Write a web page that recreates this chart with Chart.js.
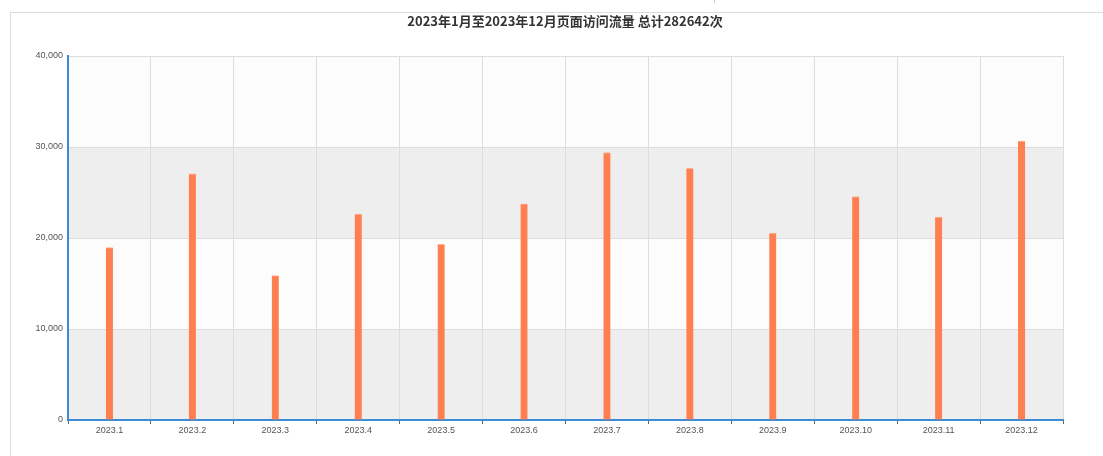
<!DOCTYPE html>
<html>
<head>
<meta charset="utf-8">
<script src="https://cdn.jsdelivr.net/npm/chart.js@4/dist/chart.umd.min.js"></script>
<style>
  html, body { margin: 0; padding: 0; background: #fff; }
  #wrap { position: relative; width: 1103px; height: 456px; overflow: hidden; }
  #frame { position: absolute; left: 10px; top: 12px; width: 1200px; height: 600px; border-left: 1px solid #dcdcdc; border-top: 1px solid #dcdcdc; }
  #mark { position: absolute; left: 714px; top: 0px; width: 1px; height: 3px; background: #ccc; }
  canvas { position: absolute; left: 0; top: 0; }
</style>
</head>
<body>
<div id="wrap">
  <div id="frame"></div>
  <div id="mark"></div>
  <canvas id="c" width="1103" height="456"></canvas>
</div>
<script>
const titleText = '2023年1月至2023年12月页面访问流量 总计282642次';
const categories = ['2023.1','2023.2','2023.3','2023.4','2023.5','2023.6','2023.7','2023.8','2023.9','2023.10','2023.11','2023.12'];
const visits = [18950, 27050, 15870, 22620, 19300, 23750, 29400, 27650, 20550, 24560, 22300, 30650];
const yTicks = [0, 10000, 20000, 30000, 40000];

const bandPlugin = {
  id: 'bands',
  beforeDraw(chart) {
    const { ctx, chartArea: a, scales: { y } } = chart;
    ctx.save();
    for (let i = 0; i < yTicks.length - 1; i++) {
      const top = y.getPixelForValue(yTicks[i + 1]);
      const bot = y.getPixelForValue(yTicks[i]);
      ctx.fillStyle = (i % 2 === 0) ? '#eeeeee' : '#fcfcfc';
      ctx.fillRect(a.left, top, a.right - a.left, bot - top);
    }
    ctx.restore();
  }
};

const titlePlugin = {
  id: 'ttl',
  afterDraw(chart) {
    const { ctx } = chart;
    ctx.save();
    ctx.font = 'bold 13px "Noto Sans CJK SC", "Liberation Sans", sans-serif';
    ctx.fillStyle = '#333';
    ctx.textAlign = 'center';
    ctx.textBaseline = 'middle';
    ctx.fillText(titleText, 565, 21);
    ctx.restore();
  }
};

new Chart(document.getElementById('c'), {
  type: 'bar',
  data: {
    labels: categories,
    datasets: [{
      data: visits,
      backgroundColor: '#ff7f50',
      borderColor: '#ffb094',
      borderWidth: { top: 1, left: 0, right: 0, bottom: 0 },
      barThickness: 7
    }]
  },
  options: {
    responsive: false,
    animation: false,
    devicePixelRatio: 1,
    layout: { padding: { top: 56, right: 40, left: 1, bottom: 0 } },
    plugins: { legend: { display: false }, tooltip: { enabled: false }, title: { display: false } },
    scales: {
      x: {
        grid: { offset: true, color: '#dddddd', tickColor: '#666', tickLength: 4, drawTicks: true },
        border: { color: '#3d8bd4', width: 2 },
        ticks: { color: '#555', font: { family: '"Liberation Sans", Arial, sans-serif', size: 9 }, padding: 1, maxRotation: 0 },
        afterFit(s) { s.height = 36; }
      },
      y: {
        min: 0, max: 40000,
        afterBuildTicks(s) { s.ticks = yTicks.map(v => ({ value: v })); },
        grid: { color: '#dddddd', drawTicks: false },
        border: { color: '#3d8bd4', width: 2 },
        ticks: {
          color: '#555', padding: 5,
          font: { family: '"Liberation Sans", Arial, sans-serif', size: 9 },
          callback: v => v.toLocaleString('en-US')
        },
        afterFit(s) { s.width = 67; }
      }
    }
  },
  plugins: [bandPlugin, titlePlugin]
});
</script>
</body>
</html>
